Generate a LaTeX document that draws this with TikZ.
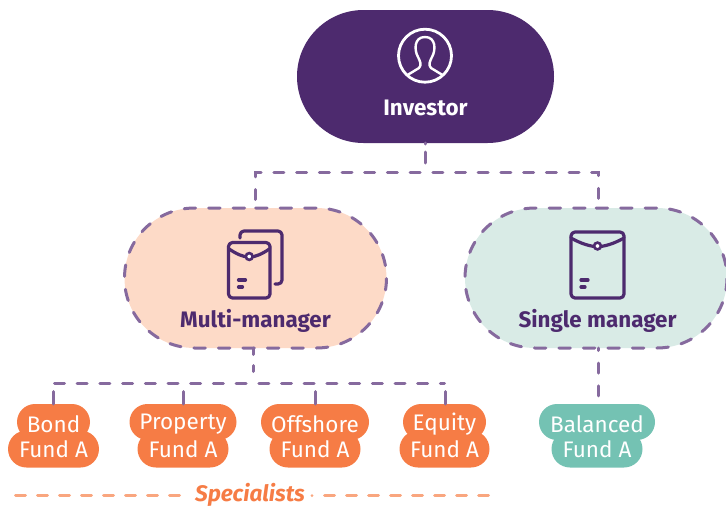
\documentclass[tikz,border=0pt]{standalone}
\usepackage{fontspec}
\setmainfont{Fira Sans}
\usetikzlibrary{shapes.misc}
\definecolor{deep}{HTML}{4D2A6E}
\definecolor{dashp}{HTML}{866A9E}
\definecolor{peach}{HTML}{FDDAC7}
\definecolor{mint}{HTML}{D9EBE6}
\definecolor{orng}{HTML}{F67C45}
\definecolor{orngl}{HTML}{F9A67F}
\definecolor{teal}{HTML}{74C2B3}
\tikzset{
  pill/.style={rounded rectangle,rounded rectangle arc length=180,inner sep=0pt,outer sep=0pt},
  bigpill/.style={pill,minimum height=140pt,draw=dashp,line width=3pt,line cap=round,dash pattern=on 11.5pt off 13pt},
  link/.style={draw=dashp,line width=3pt,line cap=round,line join=miter,dash pattern=on 10pt off 12.7pt},
  drop/.style={draw=dashp,line width=3pt,line cap=round},
  leaf/.style={pill,text=white},
  lefttext/.style={inner sep=0,text=white,font=\fontsize{22.5}{24}\selectfont},
  title/.style={inner sep=0,font=\bfseries\fontsize{22.4}{24}\selectfont},
  icon/.style={draw=deep,line width=3.2pt,line cap=round,line join=round,rounded corners=4pt},
  speclink/.style={draw=orngl,line width=3pt,line cap=round,dash pattern=on 10pt off 12pt},
}
\newcommand{\envelope}[4]{% x0 y0 x1 y1
  \draw[icon] (#1,#2) rectangle (#3,#4);
  \draw[draw=deep,line width=3.2pt,line cap=round] (#1,#2+6) .. controls ({#1+(#3-#1)*0.2},#2+12) and ({#1+(#3-#1)*0.35},#2+14) .. ({(#1+#3)/2},#2+15) .. controls ({#1+(#3-#1)*0.65},#2+14) and ({#1+(#3-#1)*0.8},#2+12) .. (#3,#2+6);
  \filldraw[draw=deep,line width=2.6pt,fill=white] ({(#1+#3)/2},#2+14) circle (3.4pt);
  \draw[draw=deep,line width=3.2pt,line cap=round] (#1+10,#4-18) -- (#1+17,#4-18) (#1+10,#4-11) -- (#1+14,#4-11);
}
\begin{document}
\begin{tikzpicture}[x=1pt,y=-1pt]
\useasboundingbox (0,0) rectangle (726,506);
% main pills
\node[pill,fill=deep,minimum width=257pt,minimum height=133pt] (inv) at (425.5,76.5) {};
\node[bigpill,fill=peach,minimum width=262pt] (multi) at (255.5,278) {};
\node[bigpill,fill=mint,minimum width=262pt] (single) at (596,278) {};
% connectors
\coordinate (jt) at (425.5,163);
\coordinate (jlb) at (255.5,199.5);
\coordinate (jl) at (255.5,172.5);
\coordinate (jr) at (598.5,172.5);
\coordinate (jrb) at (598.5,199);
\coordinate (jm) at (253.5,371.5);
\coordinate (ja) at (54.5,383.5);
\coordinate (jd) at (444.5,383.5);
\coordinate (da) at (53.5,391.5);
\coordinate (db) at (183.5,391.5);
\coordinate (dc) at (315.5,391.5);
\coordinate (dd) at (445.5,391.5);
\coordinate (de) at (598.5,396.5);
\path[link,dash pattern=on 1pt off 8pt on 11pt off 20pt] (inv.south -| jt) -- (jt);
\path[link] (jlb) -- (jl) -- (jr) -- (jrb);
\path[link,dash pattern=on 6.5pt off 11pt on 7.5pt off 20pt] (multi.south -| jm) -- (jm);
\path[link] (ja) -- (jd);
% leaves
\newcommand{\leaf}[6]{%
  \node[leaf,fill=#6,minimum width=#5pt,minimum height=37pt] (#1b) at (#3,449) {};
  \node[leaf,fill=#6,minimum width=#4pt,minimum height=36pt] (#1t) at (#3,422) {};
  \node[lefttext] (#1l) at (#3,424.5) {#2};
  \node[lefttext] (#1m) at (#3,449) {Fund A};
}
\leaf{bond}{Bond}{53.5}{73}{91}{orng}
\leaf{prop}{Property}{183}{107}{91}{orng}
\leaf{off}{Offshore}{315}{108}{91}{orng}
\leaf{eq}{Equity}{444.5}{83}{90}{orng}
\leaf{bal}{Balanced}{597}{116}{91}{teal}
\path[drop] (da) -- (da |- bondt.north);
\path[drop] (db) -- (db |- propt.north);
\path[drop] (dc) -- (dc |- offt.north);
\path[drop] (dd) -- (dd |- eqt.north);
\path[link,dash phase=7.5pt] (single.south -| jr) -- (de);
% labels
\node[title,text=white] (invl) at (425.5,108) {Investor};
\node[title,text=deep] (multil) at (255.5,320.5) {Multi-manager};
\node[title,text=deep] (singlel) at (597.5,320.5) {Single manager};
% person icon
\draw[white,line width=2.8pt] (425,55.7) circle (26.5pt);
\draw[white,line width=2.4pt,line join=round] (407.5,75) -- (419,68) .. controls (422,65) and (420,61) .. (418,57) .. controls (414,50) and (414,37) .. (425,37) .. controls (436,37) and (436,50) .. (432,57) .. controls (430,61) and (428,65) .. (431,68) -- (442.5,75);
% envelope icons
\draw[icon] (240,238) |- (282,231) -- (282,284) -- (275,284);
\envelope{228.5}{242.5}{270}{298}
\envelope{571}{232}{624}{298}
% specialists
\coordinate (sa) at (15.5,495.5);
\coordinate (sb) at (181,495.5);
\coordinate (sc) at (324.5,495.5);
\coordinate (sd) at (491,495.5);
\node[inner sep=0,anchor=base,text=orng,font=\bfseries\itshape\fontsize{22.5}{24}\selectfont] (spec) at (250,501) {Specialists};
\path[speclink] (sa) -- (sb);
\path[speclink] (sc) -- (sd);
\fill[orngl] (312,495.5) circle (1.5pt);
\end{tikzpicture}
\end{document}
